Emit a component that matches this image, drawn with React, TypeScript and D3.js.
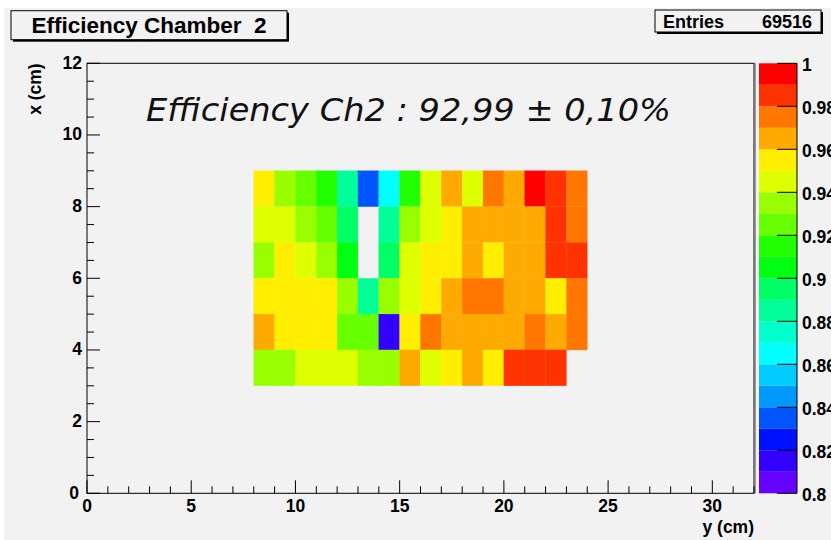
import React from "react";
import * as d3 from "d3";

// columns: lower edge of each y bin (cm), rows: lower edge of each x bin (cm)
const yBins = [8, 9, 10, 11, 12, 13, 14, 15, 16, 17, 18, 19, 20, 21, 22, 23];
const xBins = [8, 7, 6, 5, 4, 3];

// efficiency per cell, one array per row (null = no entry)
const effX8 = [0.955, 0.935, 0.925, 0.915, 0.885, 0.835, 0.865, 0.915, 0.945, 0.965, 0.945, 0.975, 0.965, 0.995, 0.985, 0.975];
const effX7 = [0.945, 0.945, 0.935, 0.925, 0.895, null, 0.885, 0.935, 0.945, 0.955, 0.965, 0.965, 0.965, 0.965, 0.985, 0.975];
const effX6 = [0.935, 0.955, 0.945, 0.935, 0.905, null, 0.895, 0.945, 0.955, 0.955, 0.965, 0.955, 0.965, 0.965, 0.985, 0.985];
const effX5 = [0.955, 0.955, 0.955, 0.955, 0.935, 0.885, 0.935, 0.945, 0.955, 0.965, 0.975, 0.975, 0.965, 0.965, 0.955, 0.975];
const effX4 = [0.965, 0.955, 0.955, 0.955, 0.925, 0.925, 0.815, 0.955, 0.975, 0.965, 0.965, 0.965, 0.965, 0.975, 0.965, 0.975];
const effX3 = [0.935, 0.935, 0.945, 0.945, 0.945, 0.935, 0.935, 0.965, 0.945, 0.955, 0.965, 0.955, 0.985, 0.985, 0.985, null];
const effRows = [effX8, effX7, effX6, effX5, effX4, effX3];

// 20 contour colours, from 0.80 up to 1.00
const palette = [
  "#6600ff", "#3300ff", "#0011ff", "#0055ff", "#0099ff",
  "#00ccff", "#00ffff", "#00ffcc", "#00ff99", "#00ff66",
  "#00ff11", "#22ff00", "#66ff00", "#99ff00", "#ddff00",
  "#ffee00", "#ffaa00", "#ff7700", "#ff3300", "#ff0000",
];

const xTicks = [0, 5, 10, 15, 20, 25, 30];
const yTicks = [0, 2, 4, 6, 8, 10, 12];
const zTicks = [0.8, 0.82, 0.84, 0.86, 0.88, 0.9, 0.92, 0.94, 0.96, 0.98, 1];
const zTickLabels = ["0.8", "0.82", "0.84", "0.86", "0.88", "0.9", "0.92", "0.94", "0.96", "0.98", "1"];

const W = 831;
const H = 540;
const frame = { left: 87, right: 754, top: 63.3, bottom: 493.3 };
const bar = { left: 759, right: 797 };
const bg = "#f2f2f2";
const font = "'Liberation Sans', Arial, Helvetica, sans-serif";

const App = () => {
  const x = d3.scaleLinear().domain([0, 32]).range([frame.left, frame.right]);
  const y = d3.scaleLinear().domain([0, 12]).range([frame.bottom, frame.top]);
  const z = d3.scaleLinear().domain([0.8, 1]).range([frame.bottom, frame.top]);
  const color = d3.scaleQuantize<string>().domain([0.8, 1]).range(palette);

  const xMinor = d3.range(0, 32.01, 1).filter((t) => t % 5 !== 0);
  const yMinor = d3.range(0, 12.01, 0.5).filter((t) => t % 2 !== 0);
  const levels = d3.range(0, palette.length).map((i) => 0.8 + i * 0.01);

  return (
    <div style={{ position: "absolute", left: 0, top: 0 }}>
      <svg width={W} height={H} style={{ display: "block" }}>
        <rect width={W} height={H} fill="#ffffff" />
        <rect x={4} y={8} width={W - 4} height={H - 8} fill={bg} />

        {/* title box */}
        <rect x={13} y={12.7} width={276} height={29} fill="#000" />
        <rect x={11} y={10.7} width={276} height={29} fill={bg} stroke="#000" strokeWidth={1} />
        <text x={149} y={33} textAnchor="middle" fontFamily={font} fontWeight="bold" fontSize={22.5} style={{ whiteSpace: "pre" }}>
          {"Efficiency Chamber  2"}
        </text>

        {/* stats box */}
        <rect x={657} y={12} width={166} height={22} fill="#000" />
        <rect x={655} y={10} width={166} height={22} fill={bg} stroke="#000" strokeWidth={1} />
        <text x={663} y={27.5} fontFamily={font} fontWeight="bold" fontSize={18}>Entries</text>
        <text x={812} y={27.5} textAnchor="end" fontFamily={font} fontWeight="bold" fontSize={18}>69516</text>

        {/* cells */}
        {effRows.map((row, ri) =>
          row.map((v, ci) =>
            v == null ? null : (
              <rect
                key={`${ri}-${ci}`}
                x={x(yBins[ci])}
                y={y(xBins[ri] + 1)}
                width={x(yBins[ci] + 1) - x(yBins[ci])}
                height={y(xBins[ri]) - y(xBins[ri] + 1)}
                fill={color(v)}
                stroke={color(v)}
                strokeWidth={0.3}
              />
            )
          )
        )}

        {/* frame */}
        <rect
          x={frame.left}
          y={frame.top}
          width={frame.right - frame.left}
          height={frame.bottom - frame.top}
          fill="none"
          stroke="#000"
          strokeWidth={1}
        />
        <line x1={frame.right + 1.5} x2={frame.right + 1.5} y1={frame.top} y2={frame.bottom} stroke="#999" strokeWidth={1} />

        {/* x axis */}
        <g fontFamily={font} fontWeight="bold" fontSize={17.5}>
          {xTicks.map((t) => (
            <g key={t}>
              <line x1={x(t)} x2={x(t)} y1={frame.bottom} y2={frame.bottom - 13} stroke="#000" />
              <text x={x(t)} y={frame.bottom + 19} textAnchor="middle">{t}</text>
            </g>
          ))}
          {xMinor.map((t) => (
            <line key={t} x1={x(t)} x2={x(t)} y1={frame.bottom} y2={frame.bottom - 7} stroke="#000" />
          ))}
          <text x={frame.right} y={533} textAnchor="end">y (cm)</text>
        </g>

        {/* y axis */}
        <g fontFamily={font} fontWeight="bold" fontSize={17.5}>
          {yTicks.map((t) => (
            <g key={t}>
              <line x1={frame.left} x2={frame.left + 13} y1={y(t)} y2={y(t)} stroke="#000" />
              <text x={t === 0 ? 79 : 82} y={y(t)} dy="0.3em" textAnchor="end">{t}</text>
            </g>
          ))}
          {yMinor.map((t) => (
            <line key={t} x1={frame.left} x2={frame.left + 7} y1={y(t)} y2={y(t)} stroke="#000" />
          ))}
          <text transform={`translate(41, ${frame.top}) rotate(-90)`} textAnchor="end">x (cm)</text>
        </g>

        {/* annotation */}
        <text
          x={146}
          y={121}
          fontFamily="'DejaVu Sans', Verdana, sans-serif"
          fontStyle="italic"
          fontSize={32}
          textLength={525}
          lengthAdjust="spacingAndGlyphs"
          fill="#111"
        >
          Efficiency Ch2 : 92,99 ± 0,10%
        </text>

        {/* colour bar */}
        {levels.map((l, i) => (
          <rect
            key={i}
            x={bar.left}
            y={z(l + 0.01)}
            width={bar.right - bar.left}
            height={z(l) - z(l + 0.01)}
            fill={palette[i]}
          />
        ))}
        <line x1={bar.right} x2={bar.right} y1={frame.top} y2={frame.bottom} stroke="#000" />
        <g fontFamily={font} fontWeight="bold" fontSize={17.5}>
          {zTicks.map((t, i) => (
            <g key={t}>
              <line x1={bar.right - 20} x2={bar.right} y1={z(t)} y2={z(t)} stroke="#000" />
              <text x={802} y={z(t) + 2} dy="0.35em">{zTickLabels[i]}</text>
            </g>
          ))}
        </g>
      </svg>
    </div>
  );
};

export default App;
